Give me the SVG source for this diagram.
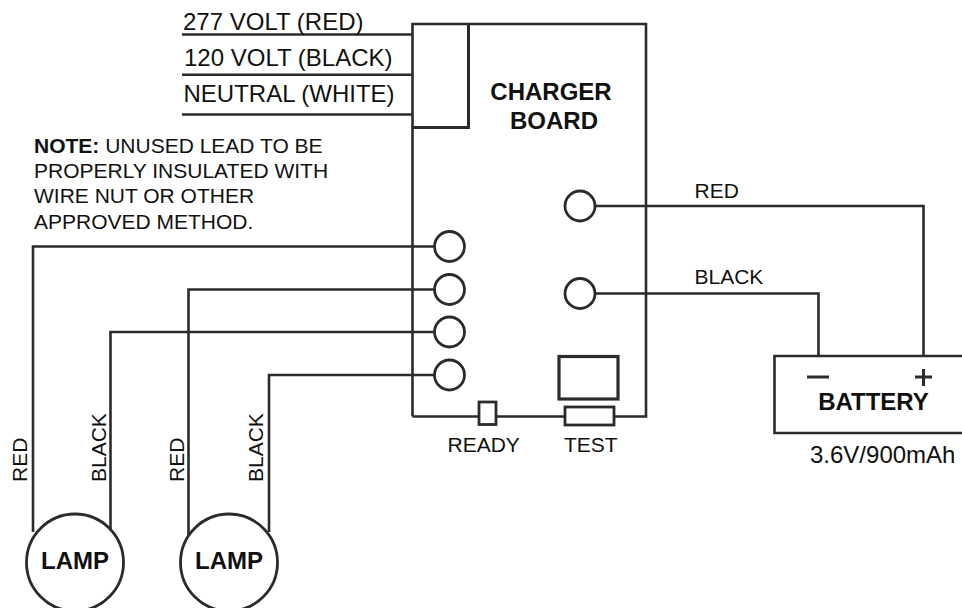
<svg xmlns="http://www.w3.org/2000/svg" width="962" height="608" viewBox="0 0 962 608">
<style>
.w{fill:none;stroke:#2b2b2b;stroke-width:2.6}
.n{fill:#fff;stroke:#2b2b2b;stroke-width:2.8}
.t{font-family:"Liberation Sans",Arial,sans-serif;font-size:21px;fill:#111}
.b{font-family:"Liberation Sans",Arial,sans-serif;font-size:24px;font-weight:700;fill:#111;text-anchor:middle}
.s{font-family:"Liberation Sans",Arial,sans-serif;font-size:24px;fill:#111}
</style>
<rect width="962" height="608" fill="#fff"/>
<g id="connectors">
<path class="w" d="M182 34.500H412.500M182 74.700H412.500M182 114.500H412.500"/>
<path class="w" d="M434 246.500H33V532"/>
<path class="w" d="M434 289.500H188.500V540"/>
<path class="w" d="M434 332H110.500V530"/>
<path class="w" d="M434 375H269V532"/>
<path class="w" d="M595 206H923.500V356"/>
<path class="w" d="M595 293.500H818.500V356"/>
</g>
<g id="charger-board">
<path class="w" d="M412.500 416.500V24H646V416.500H614M565 416.500H496M479 416.500H412.500"/>
<path class="w" style="stroke-width:3" d="M412.500 127.500H468.500V24"/>
<text class="b" x="551" y="100">CHARGER</text>
<text class="b" x="554" y="129">BOARD</text>
</g>
<g id="terminal-1"><circle class="n" cx="449.500" cy="246.500" r="15"/></g>
<g id="terminal-2"><circle class="n" cx="449.500" cy="289.500" r="15"/></g>
<g id="terminal-3"><circle class="n" cx="449.500" cy="332" r="15"/></g>
<g id="terminal-4"><circle class="n" cx="449.500" cy="375" r="15"/></g>
<g id="terminal-5"><circle class="n" cx="580" cy="206" r="15"/></g>
<g id="terminal-6"><circle class="n" cx="580" cy="293.500" r="15"/></g>
<g id="ready"><rect class="n" x="479" y="402" width="17" height="22.500"/><text class="t" x="447.500" y="452">READY</text></g>
<g id="test"><rect class="n" x="565" y="407" width="49" height="18"/><rect class="n" style="stroke-width:3.200" x="559" y="356.500" width="59" height="42.500"/><text class="t" x="564" y="452">TEST</text></g>
<g id="battery"><path class="w" d="M962 356H774.500V433H962"/>
<path class="w" style="stroke-width:3" d="M807 377H829M915 377H932M923.500 369V386"/>
<text class="b" x="873.500" y="410">BATTERY</text>
<text class="s" x="810" y="463">3.6V/900mAh</text></g>
<g id="lamp-1"><circle class="n" cx="75" cy="562.500" r="48.500"/><text class="b" x="75" y="569">LAMP</text></g>
<g id="lamp-2"><circle class="n" cx="229" cy="562.500" r="48.500"/><text class="b" x="229" y="569">LAMP</text></g>
<g id="labels">
<text class="s" x="183" y="30">277 VOLT (RED)</text>
<text class="s" x="184" y="66">120 VOLT (BLACK)</text>
<text class="s" x="183.500" y="102">NEUTRAL (WHITE)</text>
<text class="t" x="34" y="152.700"><tspan font-weight="700">NOTE:</tspan> UNUSED LEAD TO BE</text>
<text class="t" x="34" y="178">PROPERLY INSULATED WITH</text>
<text class="t" x="34" y="203">WIRE NUT OR OTHER</text>
<text class="t" x="34" y="229">APPROVED METHOD.</text>
<text class="t" x="694.500" y="198">RED</text>
<text class="t" x="694.500" y="284">BLACK</text>
<text class="t" transform="translate(26.700 482) rotate(-90)">RED</text>
<text class="t" transform="translate(105.700 482) rotate(-90)">BLACK</text>
<text class="t" transform="translate(184.300 482) rotate(-90)">RED</text>
<text class="t" transform="translate(262.700 482) rotate(-90)">BLACK</text>
</g>
</svg>
